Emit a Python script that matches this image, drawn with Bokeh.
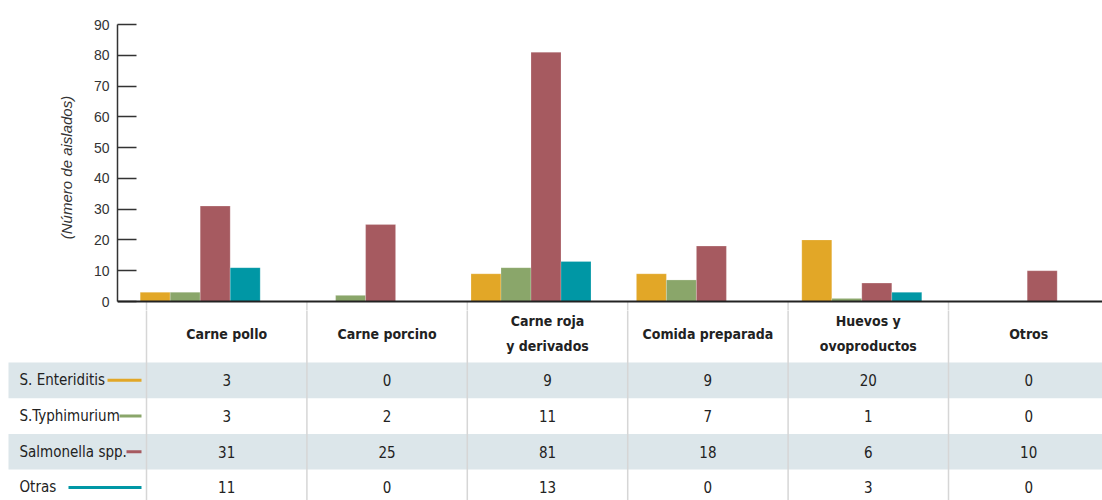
from bokeh.plotting import figure
from bokeh.layouts import column
from bokeh.models import Range1d, FixedTicker, Span
from bokeh.embed import file_html
from bokeh.resources import INLINE
from bokeh.core.properties import value
import numpy as np

# ---------------- data ----------------
categories = ["Carne pollo", "Carne porcino", "Carne roja\ny derivados",
              "Comida preparada", "Huevos y\novoproductos", "Otros"]
series_names = ["S. Enteriditis", "S.Typhimurium", "Salmonella spp.", "Otras"]
enteritidis = [3, 0, 9, 9, 20, 0]
typhimurium = [3, 2, 11, 7, 1, 0]
salmonella_spp = [31, 25, 81, 18, 6, 10]
otras = [11, 0, 13, 0, 3, 0]
y_ticks = [0, 10, 20, 30, 40, 50, 60, 70, 80, 90]
colors = ["#E2A727", "#8AA66A", "#A65A60", "#0097A5"]
series_values = [enteritidis, typhimurium, salmonella_spp, otras]

# ---------------- layout constants ----------------
W = 1102
TOP_H = 310
BOT_H = 190
FRAME_L = 117
FRAME_T = 24
BASE_PX = 301          # pixel row of the zero line
CAT_PX = 165.4
BAR_PX = 30
NARROW = "'Liberation Sans Narrow', 'DejaVu Sans Condensed', sans-serif"

frame_w = W - FRAME_L
x_end = -0.5 + frame_w / CAT_PX
bar_w = BAR_PX / CAT_PX
px_per_unit = (BASE_PX - FRAME_T) / 90.0
y_start = -(TOP_H - BASE_PX) / px_per_unit

p = figure(width=W, height=TOP_H, output_backend="svg", toolbar_location=None,
           x_range=Range1d(-0.5, x_end), y_range=Range1d(y_start, 90),
           min_border_left=FRAME_L, min_border_right=0, min_border_top=FRAME_T,
           min_border_bottom=0)
p.frame_align = False
p.outline_line_color = None
p.xgrid.visible = False
p.ygrid.visible = False
p.xaxis.visible = False

# table geometry (pixels)
LABEL_W = 146
COL_W = 160.4
HEADER_H = 60
ROW_H = 35.7
ROW_LEFT = 8

col_left = LABEL_W + np.arange(len(categories)) * COL_W
col_mid = col_left + COL_W / 2

# start of the table's column separators, just under the zero line
sep_x_units = (col_left - FRAME_L) / CAT_PX - 0.5
p.segment(x0=sep_x_units, y0=0, x1=sep_x_units, y1=y_start,
          line_color="#D6D6D6", line_width=1.5)

idx = np.arange(len(categories))
offsets = (np.arange(len(series_values)) - (len(series_values) - 1) / 2) * bar_w
for vals, col, off in zip(series_values, colors, offsets):
    p.vbar(x=idx + off, top=vals, bottom=0, width=bar_w, fill_color=col,
           line_color="white", line_alpha=0.35, line_width=0.6)

p.add_layout(Span(location=0, dimension="width", line_color="#222222", line_width=2))

ya = p.yaxis[0]
ya.ticker = FixedTicker(ticks=y_ticks)
ya.bounds = (0, 90)
ya.minor_tick_line_color = None
ya.major_tick_in = 19
ya.major_tick_out = 0
ya.major_tick_line_color = "#333333"
ya.major_tick_line_width = 1.5
ya.axis_line_color = "#333333"
ya.axis_line_width = 1.5
ya.major_label_text_font = "Liberation Sans"
ya.major_label_text_font_size = "14px"
ya.major_label_text_color = "#333333"
ya.major_label_standoff = 8
ya.axis_label = "(Número de aislados)"
ya.axis_label_text_font = "Liberation Sans"
ya.axis_label_text_font_style = "italic"
ya.axis_label_text_font_size = "15px"
ya.axis_label_text_color = "#333333"
ya.axis_label_standoff = 16

# ---------------- table ----------------
top_off = TOP_H - (BASE_PX + 1)   # table coords: 0 = pixel row just below the zero line

t = figure(width=W, height=BOT_H, output_backend="svg", toolbar_location=None,
           x_range=Range1d(0, W), y_range=Range1d(BOT_H + top_off, top_off),
           min_border=0)
t.frame_align = False
t.outline_line_color = None
t.xgrid.visible = False
t.ygrid.visible = False
t.xaxis.visible = False
t.yaxis.visible = False

n_rows = len(series_names)
row_top = HEADER_H + np.arange(n_rows) * ROW_H
row_mid = row_top + ROW_H / 2
shaded = np.arange(n_rows) % 2 == 0
t.quad(left=ROW_LEFT, right=W, top=row_top[shaded], bottom=row_top[shaded] + ROW_H,
       fill_color="#DCE6EA", line_color=None)

t.segment(x0=col_left, y0=0, x1=col_left, y1=BOT_H + top_off,
          line_color="#D6D6D6", line_width=1.5)

t.text(x=col_mid, y=HEADER_H / 2 + 1, text=categories, text_align="center",
       text_baseline="middle", text_font=value(NARROW), text_font_style="bold",
       text_font_size="14px", text_color="#222222", text_line_height=1.6)

for r, (name, vals) in enumerate(zip(series_names, series_values)):
    t.text(x=col_mid, y=np.full(len(vals), row_mid[r]), text=[str(v) for v in vals],
           text_align="center", text_baseline="middle", text_font=value(NARROW),
           text_font_size="15px", text_color="#222222")
    t.text(x=[19], y=[row_mid[r]], text=[name], text_align="left",
           text_baseline="middle", text_font=value(NARROW), text_font_size="15px",
           text_color="#222222")

swatch_start = [107, 119, 126, 68]
swatch_end = 141
t.segment(x0=swatch_start, y0=row_mid, x1=swatch_end, y1=row_mid,
          line_color=colors, line_width=3)

layout = column(p, t, spacing=0)
open("out.html", "w").write(file_html(layout, INLINE))
